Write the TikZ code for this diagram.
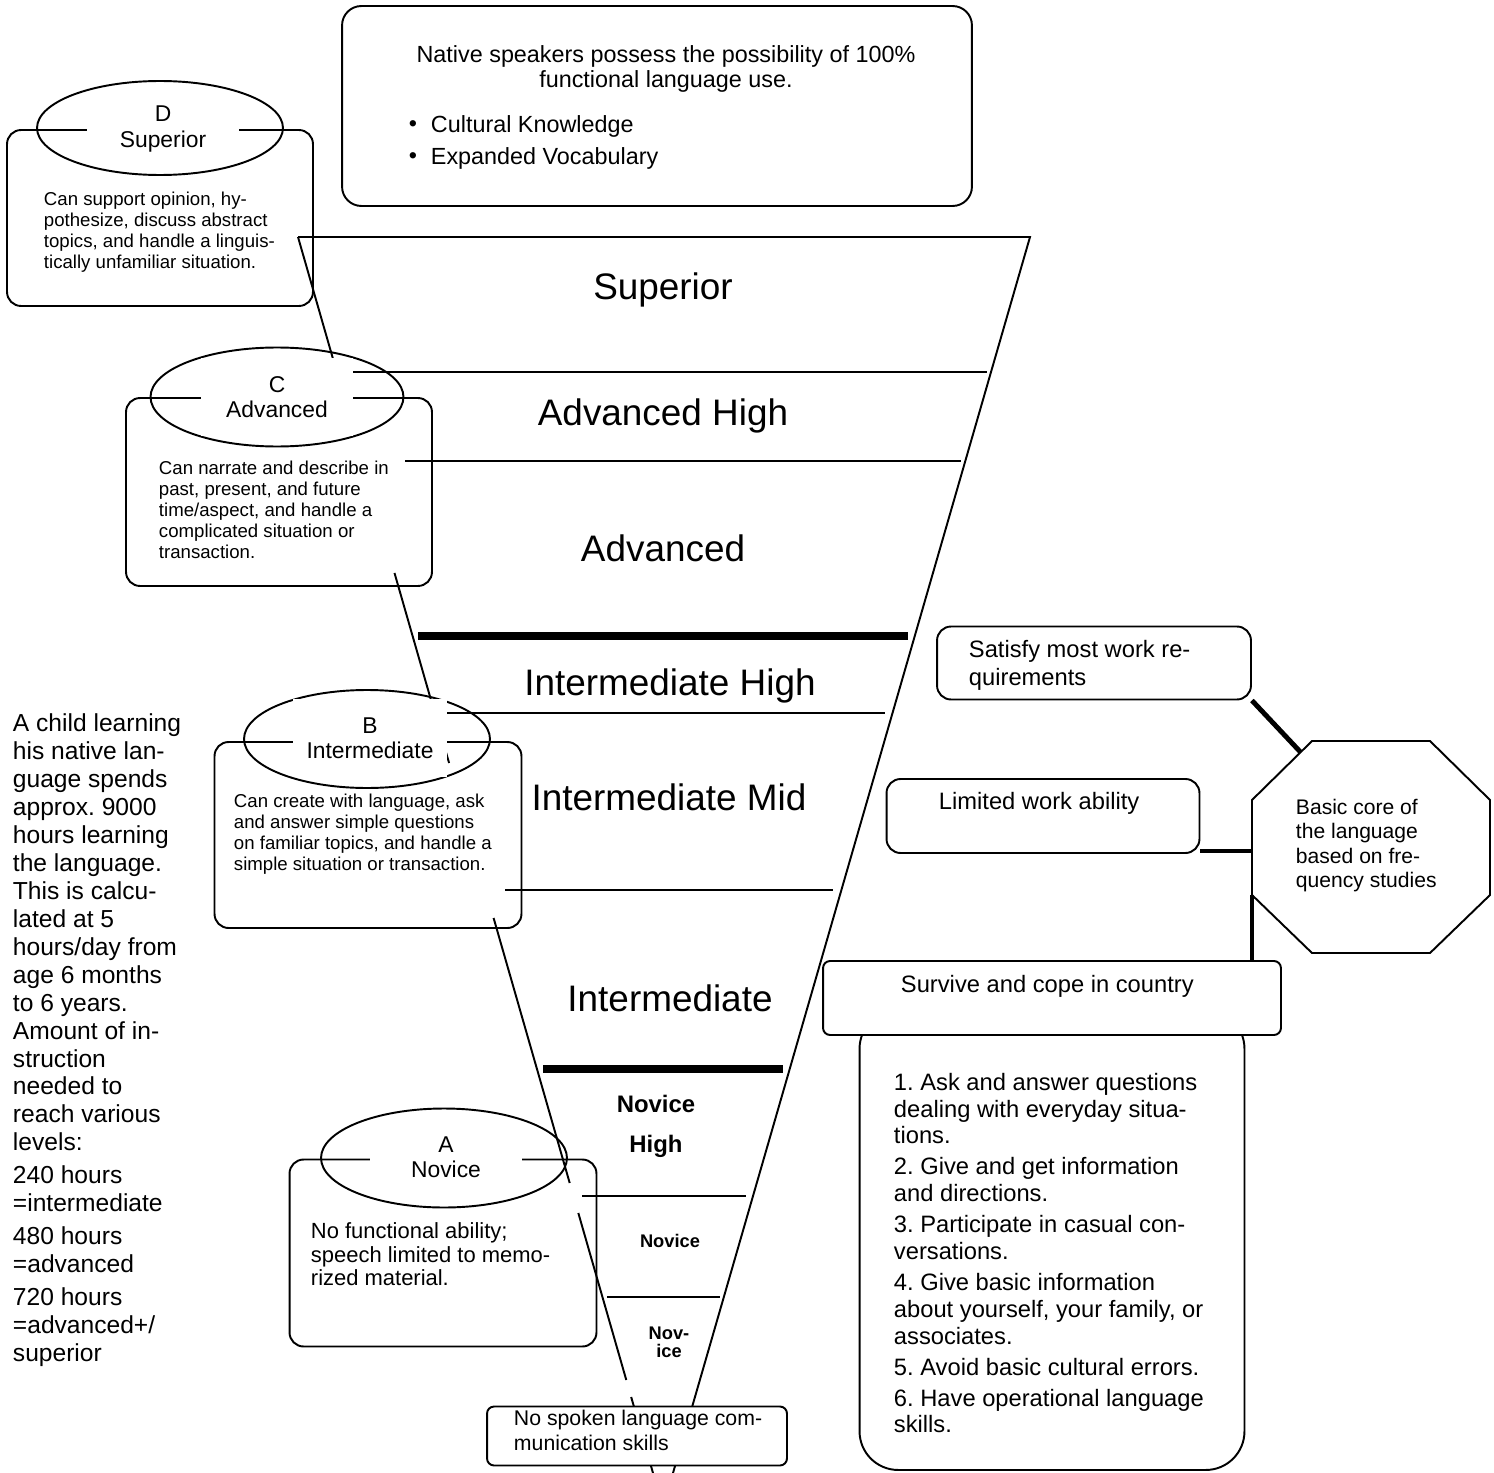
\documentclass[tikz,border=0pt]{standalone}
\usepackage{fontspec}
\setmainfont{Liberation Sans}
\usetikzlibrary{shapes.geometric,calc}
\frenchspacing

\begin{document}
\begin{tikzpicture}[x=0.02cm,y=-0.02cm,line width=1.1pt,
		box/.style={draw,rounded corners=8pt},
		oval/.style={draw,ellipse,inner sep=0pt},
		tag/.style={fill=white,align=center,inner sep=0pt,font=\fontsize{13}{14.5}\selectfont},
		body/.style={anchor=north west,inner sep=0pt,align=left,font=\fontsize{10.6}{12}\selectfont},
		level/.style={font=\fontsize{21}{24}\selectfont},
		bar/.style={line width=4.5pt},
		link/.style={line width=2.8pt}]

	\useasboundingbox (0,0) rectangle (1494,1473);

	% funnel
	\coordinate (ftl) at (298,237);
	\coordinate (ftr) at (1030,237);
	\coordinate (fbl) at (653,1473);
	\coordinate (fbr) at (673,1473);

	\draw (ftl) -- (ftr) -- (fbr);
	\foreach \a/\b in {237/358, 573/763, 918/1183, 1213/1380, 1397/1473}{
			\draw ($(ftl)!{(\a-237)/1236}!(fbl)$) -- ($(ftl)!{(\b-237)/1236}!(fbl)$);
		}
	\foreach \y/\a/\b in {372/353/987, 461/405/961, 713/447/885, 890/505/833, 1196/582/746, 1297/607/720}{
			\draw (\a,\y) -- (\b,\y);
		}
	\draw[bar] (418,636) -- (908,636);
	\draw[bar] (543,1069) -- (783,1069);

	\node[level] (lvS) at (663,290) {Superior};
	\node[level] (lvAH) at (663,416) {Advanced High};
	\node[level] (lvA) at (663,548) {Advanced};
	\node[level] (lvIH) at (670,686) {Intermediate High};
	\node[level] (lvIM) at (669,797) {Intermediate Mid};
	\node[level] (lvI) at (670,998) {Intermediate};
	\node[align=center,font=\bfseries\fontsize{13.6}{22.7}\selectfont] (lvNH) at (656,1126) {Novice\\High};
	\node[font=\bfseries\fontsize{10.4}{12}\selectfont] (lvN) at (670,1241) {Novice};
	\node[align=center,font=\bfseries\fontsize{10.4}{10.2}\selectfont] (lvNL) at (669,1342) {Nov-\\ice};

	% native speakers
	\node[box,rounded corners=11pt,minimum width=12.6cm,minimum height=4cm] (native) at (657,106) {};
	\node[align=center,font=\fontsize{13.3}{14.7}\selectfont] (nativeT) at (666,69) {Native speakers possess the possibility of 100\%\\functional language use.};
	\node[font=\fontsize{13.3}{14.7}\selectfont] (bul1) at (413,126) {\textbullet};
	\node[font=\fontsize{13.3}{14.7}\selectfont] (bul2) at (413,158) {\textbullet};
	\node[anchor=west,inner sep=0pt,font=\fontsize{13.3}{14.7}\selectfont] (cult) at (430,126) {Cultural Knowledge};
	\node[anchor=west,inner sep=0pt,font=\fontsize{13.3}{14.7}\selectfont] (vocab) at (430,158) {Expanded Vocabulary};

	% D superior
	\node[box,minimum width=6.12cm,minimum height=3.52cm] (boxD) at (160,218) {};
	\node[oval,minimum width=4.92cm,minimum height=1.88cm] (ovD) at (160,128) {};
	\node[tag,minimum width=3.04cm,minimum height=1.36cm] (tagD) at (163,129) {D\\Superior};
	\node[body] (txtD) at (43,191) {Can support opinion, hy-\\pothesize, discuss abstract\\topics, and handle a linguis-\\tically unfamiliar situation.};

	% C advanced
	\node[box,minimum width=6.12cm,minimum height=3.76cm] (boxC) at (279,492) {};
	\node[oval,minimum width=5.06cm,minimum height=1.98cm] (ovC) at (277,397) {};
	\node[tag,minimum width=3.06cm,minimum height=1.58cm] (tagC) at (277,397) {C\\Advanced};
	\node[body] (txtC) at (158,460) {Can narrate and describe in\\past, present, and future\\time/aspect, and handle a\\complicated situation or\\transaction.};

	% B intermediate
	\node[box,minimum width=6.14cm,minimum height=3.72cm] (boxB) at (368,835) {};
	\node[oval,minimum width=4.92cm,minimum height=1.96cm] (ovB) at (367,739) {};
	\node[tag,minimum width=3.08cm,minimum height=1.58cm] (tagB) at (370,738) {B\\Intermediate};
	\node[body] (txtB) at (233,793) {Can create with language, ask\\and answer simple questions\\on familiar topics, and handle a\\simple situation or transaction.};

	% A novice
	\node[box,minimum width=6.14cm,minimum height=3.74cm] (boxA) at (443,1253) {};
	\node[oval,minimum width=4.92cm,minimum height=1.98cm] (ovA) at (444,1158) {};
	\node[tag,minimum width=3.04cm,minimum height=1.4cm] (tagA) at (446,1157) {A\\Novice};
	\node[body,font=\fontsize{12.5}{13.3}\selectfont] (txtA) at (310,1222) {No functional ability;\\speech limited to memo-\\rized material.};

	% bottom
	\node[box,fill=white,rounded corners=4pt,minimum width=6cm,minimum height=1.18cm] (boxZ) at (637,1436) {};
	\node[body,font=\fontsize{12.1}{14.2}\selectfont] (txtZ) at (513,1409) {No spoken language com-\\munication skills};

	% child hours
	\node[body,font=\fontsize{14}{15.9}\selectfont] (child) at (12,713) {A child learning\\his native lan-\\guage spends\\approx. 9000\\hours learning\\the language.\\This is calcu-\\lated at 5\\hours/day from\\age 6 months\\to 6 years.\\Amount of in-\\struction\\needed to\\reach various\\levels:\\[2.8pt]240 hours\\=intermediate\\[2.8pt]480 hours\\=advanced\\[2.8pt]720 hours\\=advanced+/\\superior};

	% right side
	\node[box,minimum width=6.28cm,minimum height=1.46cm] (sat) at (1094,663) {};
	\node[body,font=\fontsize{13.5}{15.9}\selectfont] (satT) at (968,639) {Satisfy most work re-\\quirements};
	\node[box,minimum width=6.26cm,minimum height=1.48cm] (lim) at (1043,816) {};
	\node[body,font=\fontsize{13.5}{15.9}\selectfont] (limT) at (938,791) {Limited work ability};
	\node[box,rounded corners=22pt,minimum width=7.7cm,minimum height=9.2cm] (list) at (1052,1240) {};
	\node[body,font=\fontsize{13.5}{15.3}\selectfont] (listT) at (893,1072) {1. Ask and answer questions\\dealing with everyday situa-\\tions.\\[2.3pt]2. Give and get information\\and directions.\\[2.3pt]3. Participate in casual con-\\versations.\\[2.3pt]4. Give basic information\\about yourself, your family, or\\associates.\\[2.3pt]5. Avoid basic cultural errors.\\[2.3pt]6. Have operational language\\skills.};
	\node[box,fill=white,rounded corners=4pt,minimum width=9.16cm,minimum height=1.48cm] (surv) at (1052,998) {};
	\node[body,font=\fontsize{13.5}{15.9}\selectfont] (survT) at (900,974) {Survive and cope in country};

	% octagon
	\coordinate (o1) at (1312,741);
	\coordinate (o2) at (1430,741);
	\coordinate (o3) at (1490,800);
	\coordinate (o4) at (1490,895);
	\coordinate (o5) at (1430,953);
	\coordinate (o6) at (1312,953);
	\coordinate (o7) at (1252,895);
	\coordinate (o8) at (1252,800);
	\draw (o1) -- (o2) -- (o3) -- (o4) -- (o5) -- (o6) -- (o7) -- (o8) -- cycle;
	\node[body,font=\fontsize{12}{13.9}\selectfont] (core) at (1295,798) {Basic core of\\the language\\based on fre-\\quency studies};

	\draw[link] (sat.south east) -- ($(o8)!0.81!(o1)$);
	\draw[link] ($(lim.south east)+(0,-3)$) -- ($(lim.south east -| o8)+(0,-3)$);
	\draw[link] (o7) -- (o7 |- surv.north);
\end{tikzpicture}
\end{document}
